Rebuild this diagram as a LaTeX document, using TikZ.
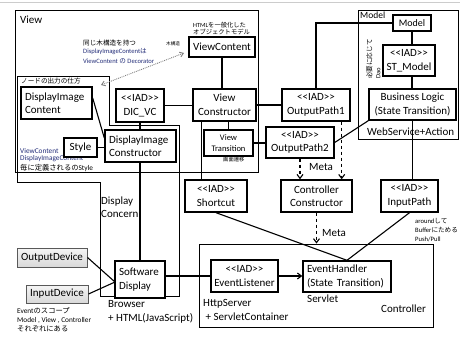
\documentclass[tikz,border=0pt]{standalone}
\usepackage{fontspec}
\setmainfont{Carlito}
\newfontfamily\jp{Noto Sans CJK JP}
\usetikzlibrary{arrows.meta,calc}
\newcommand\fm{\fontsize{11pt}{13.5pt}\selectfont}
\newcommand\fsm{\fontsize{6.6pt}{8.6pt}\selectfont}
\newcommand\fmd{\fontsize{7.3pt}{8.6pt}\selectfont}
\newcommand\iad{<\kern0pt<IAD>\kern0pt>}
\definecolor{jnavy}{RGB}{35,45,120}
\begin{document}
\begin{tikzpicture}[x=1pt,y=-1pt,
  nd/.style={draw, line width=1.4pt, fill=white, inner sep=0pt, align=center, font=\fm},
  ndl/.style={nd, align=left, inner xsep=4pt},
  cont/.style={draw, line width=0.9pt, inner sep=0pt},
  conn/.style={line width=1.1pt},
  lbl/.style={inner sep=0pt, anchor=west, align=left},
  dev/.style={draw=gray!70!black, line width=1pt, top color=gray!8, bottom color=gray!30, inner sep=0pt, font=\fm},
  arr/.style={-{Straight Barb[length=4pt,width=6pt]}},
]
\useasboundingbox (0,0) rectangle (460,338);
\draw[gray!40, line width=0.8pt] (0,2) -- (460,2);

% containers
\node[cont, minimum width=243pt, minimum height=162pt] (viewc) at (136.5,91) {};
\node[cont, minimum width=100pt, minimum height=129pt] (modelc) at (408,74.5) {};
\node[cont, minimum width=234pt, minimum height=83pt] (ctrlc) at (316,285.5) {};
\draw[line width=0.9pt] (17,76) -- (109,76) -- (109,125) -- (179,125) -- (179,296) -- (100,296) -- (100,182) -- (17,182) -- cycle;

% container labels
\node[lbl, font=\fm] (tview) at (20,20) {View};
\node[lbl, font=\fontsize{9.5pt}{10pt}\selectfont] (tmodel) at (360,15) {Model};
\node[lbl, font=\fm] (tctrl) at (381,309) {Controller};
\node[lbl, font=\fm] (tws) at (367,132) {WebService+Action};
\node[lbl, font=\fm] (tdisp) at (101,207) {Display\\Concern};
\node[lbl, font=\fm] (tbrowser) at (108,312) {Browser\\+ HTML(JavaScript)};
\node[lbl, font=\fm] (thttp) at (203,310) {HttpServer\\\ + ServletContainer};
\node[lbl, font=\fm] (tservlet) at (307,299) {Servlet};
\node[lbl, font=\fm] (tmeta1) at (309,167) {Meta};
\node[lbl, font=\fm] (tmeta2) at (322,233) {Meta};

% small texts
\node[lbl, font=\fsm] (n1) at (83,43) {{\jp 同じ木構造を持つ}};
\node[lbl, font=\fsm, text=jnavy] (n2) at (83,52) {DisplayImageContent{\jp は}};
\node[lbl, font=\fsm, text=jnavy] (n3) at (83,61) {ViewContent {\jp の} Decorator};
\node[lbl, font=\fontsize{4.6pt}{5pt}\selectfont] (n4) at (166,44) {{\jp 木構造}};
\node[lbl, font=\fontsize{6.3pt}{7.3pt}\selectfont] (n5) at (193,28.5) {HTML{\jp を一般化した}\\{\jp オブジェクトモデル}};
\node[lbl, font=\fsm] (n6) at (21,81) {{\jp ノードの出力の仕方}};
\node[lbl, font=\fmd, text=jnavy] (n7) at (20,151) {ViewContent};
\node[lbl, font=\fmd, text=jnavy] (n8) at (20,159) {DisplayImageContent};
\node[lbl, font=\fmd] (n9) at (20,168) {{\jp 毎に定義されるの}Style};
\node[lbl, font=\fontsize{5.3pt}{6pt}\selectfont] (n10) at (223,159.5) {{\jp 画面遷移}};
\node[lbl, font=\fsm] (n11) at (415,221) {around{\jp して}};
\node[lbl, font=\fsm] (n12) at (415,230) {Buffer{\jp にためる}};
\node[lbl, font=\fsm] (n13) at (415,239) {Push/Pull};
\node[lbl, font=\fmd] (n14) at (17,311) {Event{\jp のスコープ}};
\node[lbl, font=\fmd] (n15) at (17,320) {Model , View , Controller};
\node[lbl, font=\fmd] (n16) at (17,329) {{\jp それぞれにある}};
\node[rotate=90, anchor=north west, inner sep=0pt, align=left, font=\fsm] (n17) at (366,79) {{\jp 必要に応じて}\\Dao};

% nodes
\node[ndl, text width=63pt, minimum height=32pt] (dic) at (56.5,103) {DisplayImage\\Content};
\node[nd, minimum width=48pt, minimum height=33pt] (dicvc) at (140,105.5) {\iad\\DIC\_VC};
\node[ndl, text width=63pt, minimum height=32pt] (dicons) at (140.5,146) {DisplayImage\\Constructor};
\node[nd, minimum width=33pt, minimum height=19pt] (style) at (80.5,147.5) {Style};
\node[nd, minimum width=66pt, minimum height=20pt] (vc) at (222,47) {ViewContent};
\node[nd, minimum width=63pt, minimum height=32pt] (vcons) at (224.5,105) {View\\Constructor};
\node[nd, minimum width=49pt, minimum height=26pt, font=\fontsize{8.5pt}{11pt}\selectfont] (vt) at (228.5,143) {View\\Transition};
\node[nd, minimum width=68pt, minimum height=32pt] (op1) at (316,105) {\iad\\OutputPath1};
\node[nd, minimum width=68pt, minimum height=31pt] (op2) at (300,142.5) {\iad\\OutputPath2};
\node[nd, minimum width=38pt, minimum height=16pt, font=\fontsize{10pt}{12pt}\selectfont] (model) at (412,23) {Model};
\node[nd, minimum width=52pt, minimum height=31pt] (stm) at (409,60.5) {\iad\\ST\_Model};
\node[nd, minimum width=87pt, minimum height=31pt] (bl) at (412.5,104.5) {Business Logic\\(State Transition)};
\node[nd, minimum width=62pt, minimum height=32pt] (shortcut) at (216,196) {\iad\\Shortcut};
\node[nd, minimum width=71pt, minimum height=32pt] (cc) at (316.5,196) {Controller\\Constructor};
\node[nd, minimum width=57pt, minimum height=32pt] (ip) at (409.5,196) {\iad\\InputPath};
\node[ndl, text width=42pt, minimum height=37pt] (sd) at (140,279.5) {Software\\Display};
\node[nd, minimum width=67pt, minimum height=32pt] (el) at (244.5,276) {\iad\\EventListener};
\node[ndl, text width=80pt, minimum height=31pt] (eh) at (347,276.5) {EventHandler\\(State Transition)};
\node[dev, minimum width=70pt, minimum height=19pt] (od) at (52,257.5) {OutputDevice};
\node[dev, minimum width=62pt, minimum height=18pt] (id) at (57,294) {InputDevice};

% connectors
\draw[conn] (vc.south) -- (vc.south |- vcons.north);
\draw[conn] (dicvc.east) -- (dicvc.east -| vcons.west);
\draw[conn] (vcons.east) -- (vcons.east -| op1.west);
\draw[conn] (op1.north) |- (model.west);
\draw[conn] (model.south) -- (model.south |- stm.north);
\draw[conn] (model.south |- stm.south) -- (model.south |- bl.north);
\draw[conn] (dicvc.south) -- (dicvc.south |- dicons.north);
\draw[conn] ($(dic.east)+(0,-5)$) -- ($(dicons.west)+(0,-8)$);
\draw[conn] (style.east) -- (style.east -| dicons.west);
\draw[conn] (sd.north |- dicons.south) -- (sd.north);
\coordinate (vcsc) at ($(vcons.south west)+(9,0)$);
\draw[conn] (vcsc) -- (vcsc |- shortcut.north);
\draw[conn] (vt.north |- vcons.south) -- (vt.north);
\draw[conn] (vt.east) -- (vt.east -| op2.west);
\draw[conn] (op2.east) -- (bl.south west);
\draw[conn] (bl.south) -- (bl.south |- ip.north);
\draw[conn, dashed, arr] (op2.south) -- (op2.south |- cc.north);
\coordinate (op1d) at ($(op1.south east)+(-9,0)$);
\draw[conn, dashed, arr] (op1d) -- (op1d |- cc.north);
\draw[conn, dashed, arr] (cc.south) -- (cc.south |- ctrlc.north);
\draw[conn] (shortcut.south) -- (eh.north);
\draw[conn] (ip.south) -- (eh.north);
\draw[conn] (el.west -| sd.east) -- (el.west);
\draw[conn, arr] (el.east) -- (el.east -| eh.west);
\coordinate (sdin) at (115,282);
\draw[conn] (od.east) -- (sdin);
\draw[conn] (id.east) -- (sdin);
\coordinate (dA) at (101,85);
\coordinate (dB) at (184,53);
\draw[gray, densely dotted, line width=0.9pt, {Straight Barb[length=3.5pt,width=5pt]}-{Straight Barb[length=3.5pt,width=5pt]}] (dA) -- (dB);
\end{tikzpicture}
\end{document}
